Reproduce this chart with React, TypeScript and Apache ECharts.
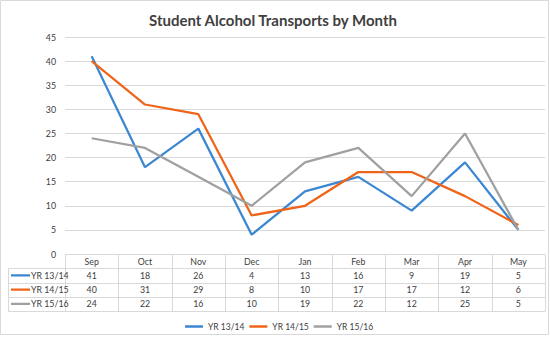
import React, { useEffect, useRef } from "react";
import * as echarts from "echarts";

const categories = ["Sep", "Oct", "Nov", "Dec", "Jan", "Feb", "Mar", "Apr", "May"];
const seriesNames = ["YR 13/14", "YR 14/15", "YR 15/16"];
const yr1314 = [41, 18, 26, 4, 13, 16, 9, 19, 5];
const yr1415 = [40, 31, 29, 8, 10, 17, 17, 12, 6];
const yr1516 = [24, 22, 16, 10, 19, 22, 12, 25, 5];
const seriesValues = [yr1314, yr1415, yr1516];
const colors = ["#3C87D2", "#EF6418", "#A0A0A0"];

const FONT = "Lato, 'Open Sans', sans-serif";
const FS = 8.8;
const GRID_LEFT = 65;
const GRID_RIGHT = 545;
const GRID_TOP = 37;
const GRID_BOTTOM = 254;
const ROW_H = 14.25;
const LABEL_LEFT = 8;
const BORDER = "#d9d9d9";
const TEXT = "#404040";

export default function App() {
  const ref = useRef<HTMLDivElement>(null);
  useEffect(() => {
    if (!ref.current) return;
    const chart = echarts.init(ref.current, undefined, { renderer: "svg" });
    chart.setOption({
      animation: false,
      backgroundColor: "#ffffff",
      title: {
        text: "Student Alcohol Transports by Month",
        left: 268,
        textAlign: "center",
        top: 7,
        textStyle: { fontFamily: FONT, fontSize: 15, fontWeight: "bold", color: "#404040" },
      },
      grid: {
        left: GRID_LEFT,
        top: GRID_TOP,
        width: GRID_RIGHT - GRID_LEFT,
        height: GRID_BOTTOM - GRID_TOP,
        containLabel: false,
      },
      legend: {
        data: seriesNames,
        left: 180,
        top: 317,
        icon: "rect",
        itemWidth: 18,
        itemHeight: 2.5,
        itemGap: 5,
        textStyle: { fontFamily: FONT, fontSize: 8.5, color: TEXT },
      },
      xAxis: {
        type: "category",
        data: categories,
        boundaryGap: true,
        axisLine: { show: false },
        axisTick: { show: false },
        axisLabel: {
          margin: 2,
          fontFamily: FONT,
          fontSize: FS,
          color: TEXT,
          lineHeight: 11,
          interval: 0,
        },
        splitLine: { show: false },
      },
      yAxis: {
        type: "value",
        min: 0,
        max: 45,
        interval: 5,
        axisLine: { show: false },
        axisTick: { show: false },
        axisLabel: { margin: 9, fontFamily: FONT, fontSize: FS, color: TEXT },
        splitLine: { lineStyle: { color: BORDER, width: 1 } },
      },
      series: seriesNames.map((name, i) => ({
        name,
        type: "line",
        data: seriesValues[i],
        symbol: "none",
        lineStyle: { width: 2.25, color: colors[i] },
        itemStyle: { color: colors[i] },
      })),
    });

    const xs = categories.map((c) => chart.convertToPixel({ xAxisIndex: 0 }, c) as number);
    const colW = (GRID_RIGHT - GRID_LEFT) / categories.length;
    const elements: any[] = [];
    elements.push({
      type: "rect",
      shape: { x: 0.5, y: 0.5, width: 548, height: 334 },
      style: { fill: "none", stroke: BORDER, lineWidth: 1 },
      silent: true,
    });
    const tableBottom = GRID_BOTTOM + ROW_H * (seriesNames.length + 1);
    for (let r = 1; r <= seriesNames.length + 1; r++) {
      const y = Math.round(GRID_BOTTOM + ROW_H * r) + 0.5;
      elements.push({
        type: "line",
        shape: { x1: LABEL_LEFT, y1: y, x2: GRID_RIGHT, y2: y },
        style: { stroke: BORDER, lineWidth: 1 },
      });
    }
    elements.push({
      type: "line",
      shape: { x1: LABEL_LEFT + 0.5, y1: GRID_BOTTOM + ROW_H, x2: LABEL_LEFT + 0.5, y2: Math.round(tableBottom) + 0.5 },
      style: { stroke: BORDER, lineWidth: 1 },
    });
    for (let c = 0; c <= categories.length; c++) {
      const x = Math.round(xs[0] - colW / 2 + c * colW) + 0.5;
      elements.push({
        type: "line",
        shape: { x1: x, y1: GRID_BOTTOM + 0.5, x2: x, y2: Math.round(tableBottom) + 0.5 },
        style: { stroke: BORDER, lineWidth: 1 },
      });
    }
    seriesNames.forEach((name, r) => {
      const yc = GRID_BOTTOM + ROW_H * (r + 1) + ROW_H / 2;
      elements.push({
        type: "line",
        shape: { x1: 11, y1: yc, x2: 30, y2: yc },
        style: { stroke: colors[r], lineWidth: 2.25 },
      });
      elements.push({
        type: "text",
        x: 31,
        y: yc,
        style: { text: name, fontFamily: FONT, fontSize: FS, fill: TEXT, verticalAlign: "middle", align: "left" },
      });
      seriesValues[r].forEach((v, c) => {
        elements.push({
          type: "text",
          x: xs[c],
          y: yc,
          style: { text: String(v), fontFamily: FONT, fontSize: FS, fill: TEXT, verticalAlign: "middle", align: "center" },
        });
      });
    });
    chart.setOption({ graphic: { elements } });

    return () => chart.dispose();
  }, []);
  return (
    <div
      ref={ref}
      style={{ position: "fixed", left: 0, top: 0, width: 550, height: 338, background: "#fff" }}
    />
  );
}
